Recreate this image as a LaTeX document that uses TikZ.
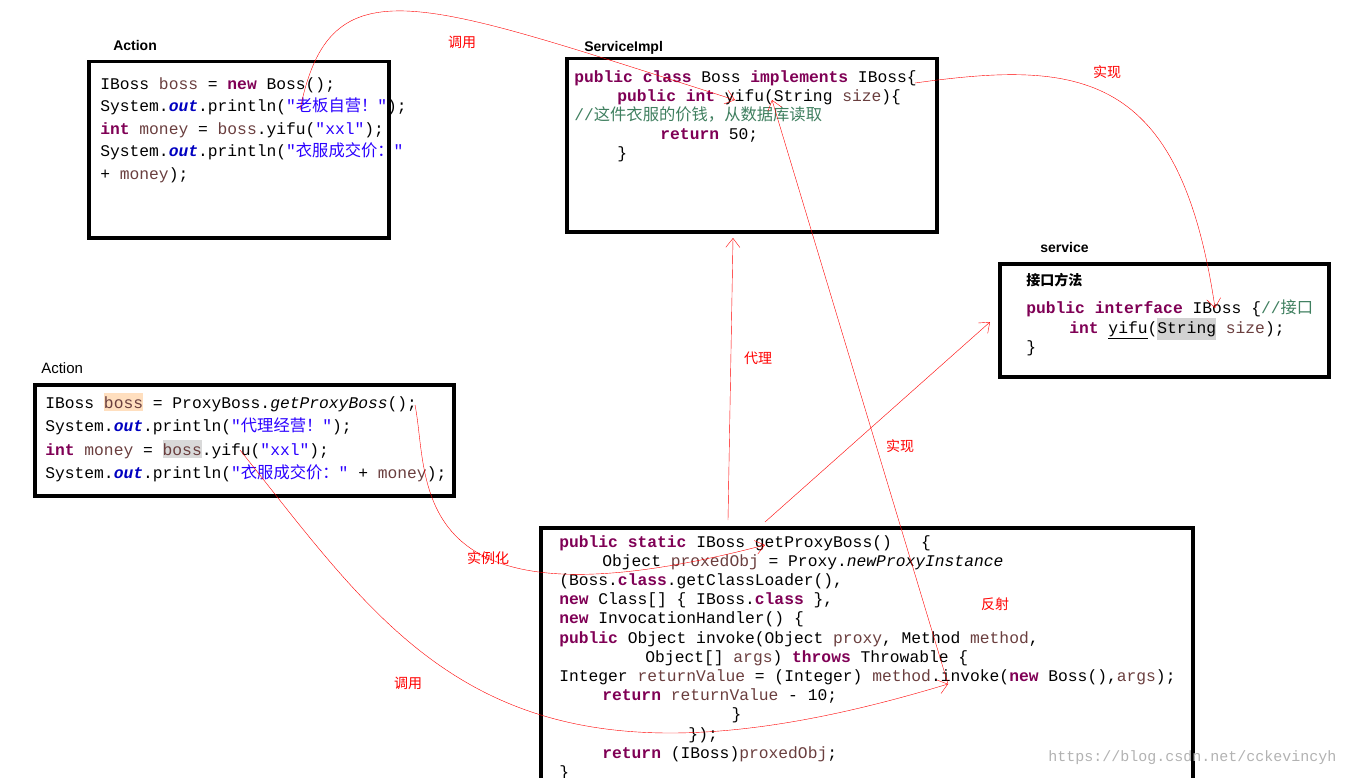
\documentclass[tikz,border=0pt]{standalone}
\usepackage{fontspec}
\setmonofont{Liberation Mono}
\setmainfont{Liberation Sans}
\newfontfamily\cjk{Noto Sans CJK SC}
\usetikzlibrary{positioning, arrows, arrows.meta}
\definecolor{kw}{HTML}{7F0055}
\definecolor{vr}{HTML}{6A3E3E}
\definecolor{st}{HTML}{2A00FF}
\definecolor{cm}{HTML}{3F7F5F}
\definecolor{fd}{HTML}{0000C0}
\newcommand{\kw}[1]{\textcolor{kw}{\textbf{#1}}}
\newcommand{\vr}[1]{\textcolor{vr}{#1}}
\newcommand{\st}[1]{\textcolor{st}{#1}}
\newcommand{\fo}{\textcolor{fd}{\textbf{\textit{out}}}}
\newcommand{\zh}[1]{{\cjk #1}}
\begin{document}
\begin{tikzpicture}[x=1pt,y=-1pt,semithick]
  \tikzstyle{box}=[draw=black,line width=3.5pt,anchor=north west,inner sep=0pt]
  \tikzstyle{code}=[anchor=north west,align=left,font=\ttfamily\fontsize{16.3}{19.2}\selectfont,inner sep=0pt]
  \tikzstyle{title}=[anchor=south west,font=\bfseries\fontsize{14}{16}\selectfont,inner sep=0pt]
  \tikzstyle{lbl}=[text=red,font=\cjk\fontsize{14}{16}\selectfont]
  \tikzstyle{link}=[-{Straight Barb[length=9pt,width=14pt]},red,thin]

  \useasboundingbox (0,0) rectangle (1349,778);

  % boxes
  \node[box,minimum width=300,minimum height=176] (act1) at (87,60) {};
  \node[box,minimum width=370,minimum height=173] (impl) at (565,57) {};
  \node[box,minimum width=329,minimum height=113] (serv) at (998,262) {};
  \node[box,minimum width=419,minimum height=111] (act2) at (33,383) {};
  \node[box,minimum width=652,minimum height=270] (prox) at (539,526) {};

  % titles
  \node[title] (t1) at (113,51) {Action};
  \node[title] (t2) at (584,55) {ServiceImpl};
  \node[title] (t3) at (1040,253) {service};
  \node[title,font=\fontsize{15}{16}\selectfont] (t4) at (41,374) {Action};

  % code
  \node[code,font=\ttfamily\fontsize{16.3}{22.5}\selectfont] (c1) at (100,77) {IBoss \vr{boss} = \kw{new} Boss();\\
System.\fo.println(\st{"\zh{老板自营！}"});\\
\kw{int} \vr{money} = \vr{boss}.yifu(\st{"xxl"});\\
System.\fo.println(\st{"\zh{衣服成交价：}"}\\
+ \vr{money});};
  \node[code] (c2) at (574,70) {\kw{public} \kw{class} Boss \kw{implements} IBoss\{\\
\hspace*{5ex}\kw{public} \kw{int} yifu(String \vr{size})\{\\
\textcolor{cm}{//\zh{这件衣服的价钱，从数据库读取}}\\
\hspace*{10ex}\kw{return} 50;\\
\hspace*{5ex}\}};
  \node[title,anchor=north west] (c3h) at (1026,273) {\zh{接口方法}};
  \node[code] (c3) at (1026,300) {\kw{public} \kw{interface} IBoss \{\textcolor{cm}{//\zh{接口}}\\
\hspace*{5ex}\kw{int} \underline{yifu}(\colorbox{gray!35}{\hspace*{-3pt}String\hspace*{-3pt}} \vr{size});\\
\}};
  \node[code,font=\ttfamily\fontsize{16.3}{23.5}\selectfont] (c4) at (45,393) {IBoss \colorbox{orange!25}{\hspace*{-3pt}\vr{boss}\hspace*{-3pt}} = ProxyBoss.\textit{getProxyBoss}();\\
System.\fo.println(\st{"\zh{代理经营！}"});\\
\kw{int} \vr{money} = \colorbox{gray!30}{\hspace*{-3pt}\vr{boss}\hspace*{-3pt}}.yifu(\st{"xxl"});\\
System.\fo.println(\st{"\zh{衣服成交价：}"} + \vr{money});};
  \node[code] (c5) at (559,535) {\kw{public} \kw{static} IBoss getProxyBoss()~~ \{\\
\hspace*{5ex}Object \vr{proxedObj} = Proxy.\textit{newProxyInstance}\\
(Boss.\kw{class}.getClassLoader(),\\
\kw{new} Class[] \{ IBoss.\kw{class} \},\\
\kw{new} InvocationHandler() \{\\
\kw{public} Object invoke(Object \vr{proxy}, Method \vr{method},\\
\hspace*{10ex}Object[] \vr{args}) \kw{throws} Throwable \{\\
Integer \vr{returnValue} = (Integer) \vr{method}.invoke(\kw{new} Boss(),\vr{args});\\
\hspace*{5ex}\kw{return} \vr{returnValue} - 10;\\
\hspace*{20ex}\}\\
\hspace*{15ex}\});\\
\hspace*{5ex}\kw{return} (IBoss)\vr{proxedObj};\\
\}};

  % anchor points on the code
  \coordinate (yifuA) at (300,110);
  \coordinate (yifuI) at (772,100);
  \coordinate (yifuI2) at (735,100);
  \coordinate (ibossI) at (915,83);
  \coordinate (ibossS) at (1215,308);
  \coordinate (proxTop) at (728,520);
  \coordinate (implBot) at (733,238);
  \coordinate (proxTop2) at (765,522);
  \coordinate (servLeft) at (990,322);
  \coordinate (invk) at (948,684);
  \coordinate (getP) at (415,405);
  \coordinate (getPB) at (765,545);
  \coordinate (bossY) at (240,450);

  % links
  \draw[link] (yifuA) .. controls (330,-40) and (420,0) .. (yifuI2);
  \draw[link] (ibossI) .. controls (1080,60) and (1180,70) .. (ibossS);
  \draw[link] (proxTop) -- (implBot);
  \draw[link] (proxTop2) -- (servLeft);
  \draw[link] (invk) -- (yifuI);
  \draw[link] (getP) .. controls (430,480) and (400,640) .. (getPB);
  \draw[link] (bossY) .. controls (400,650) and (500,820) .. (invk);

  % link labels
  \node[lbl] (l1) at (462,42) {调用};
  \node[lbl] (l2) at (1107,72) {实现};
  \node[lbl] (l3) at (758,358) {代理};
  \node[lbl] (l4) at (900,446) {实现};
  \node[lbl] (l5) at (995,604) {反射};
  \node[lbl] (l6) at (488,558) {实例化};
  \node[lbl] (l7) at (408,683) {调用};
  \node[text=gray!60,font=\ttfamily\fontsize{15}{16}\selectfont,anchor=south east] (wm) at (1340,768) {https://blog.csdn.net/cckevincyh};
\end{tikzpicture}
\end{document}
